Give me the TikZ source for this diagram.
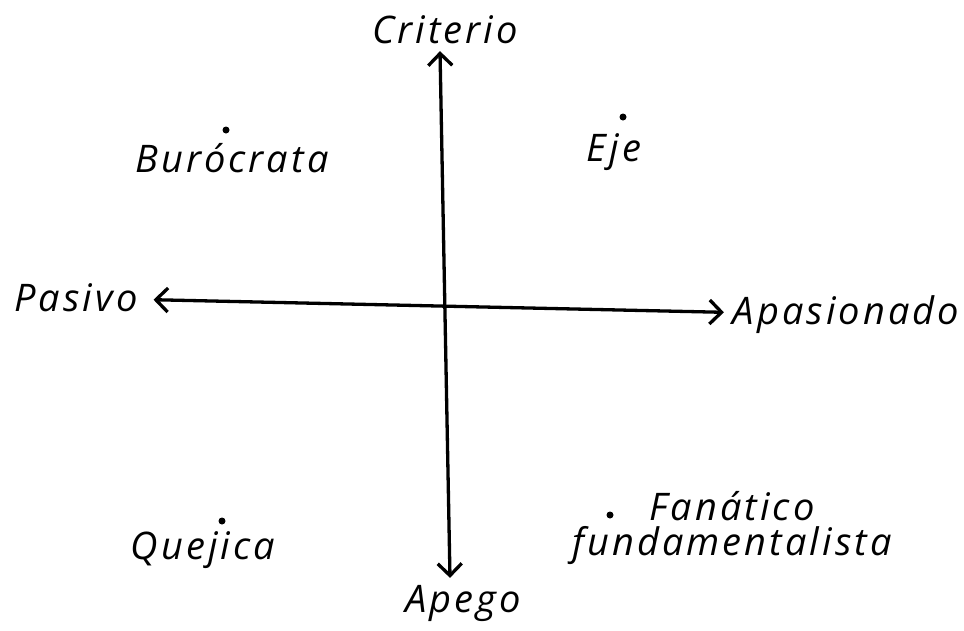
\documentclass[tikz,border=0pt]{standalone}
\usepackage{fontspec}
\setmainfont{Open Sans}[LetterSpace=8]
\usetikzlibrary{arrows.meta}
\begin{document}
\begin{tikzpicture}[x=1pt,y=-1pt,
  lbl/.style={font=\fontsize{38}{40}\selectfont\itshape,inner sep=2pt},
  axislbl/.style={lbl,outer sep=5pt},
  pt/.style={circle,fill=black,inner sep=0pt,minimum size=7pt},
  axis/.style={line width=3.3pt,{Straight Barb[length=12pt,width=24pt]}-{Straight Barb[length=12pt,width=24pt]}}]
\useasboundingbox (0,0) rectangle (964,630);
% axes labels
\node[axislbl] (criterio) at (445,30) {Criterio};
\node[axislbl] (apego) at (463,603) {Apego};
\node[axislbl,outer xsep=14pt] (pasivo) at (76,298) {Pasivo};
\node[axislbl,outer xsep=7pt] (apasionado) at (846,315) {Apasionado};
\draw[axis] ([xshift=-5pt]criterio.south) -- ([xshift=-13pt]apego.north);
\draw[axis] (pasivo) -- (apasionado);
% quadrants
\node[pt] (burocrataPt) at (226,130) {};
\node[lbl] (burocrata) at (232,158) {Burócrata};
\node[pt] (ejePt) at (623,117) {};
\node[lbl] (eje) at (614,152) {Eje};
\node[pt] (quejicaPt) at (222,521) {};
\node[lbl] (quejica) at (203,550) {Quejica};
\node[pt] (fanaticoPt) at (610,515) {};
\node[lbl] (fanatico) at (732,506) {Fanático};
\node[lbl] (fundamentalista) at (732,546) {fundamentalista};
\end{tikzpicture}
\end{document}
